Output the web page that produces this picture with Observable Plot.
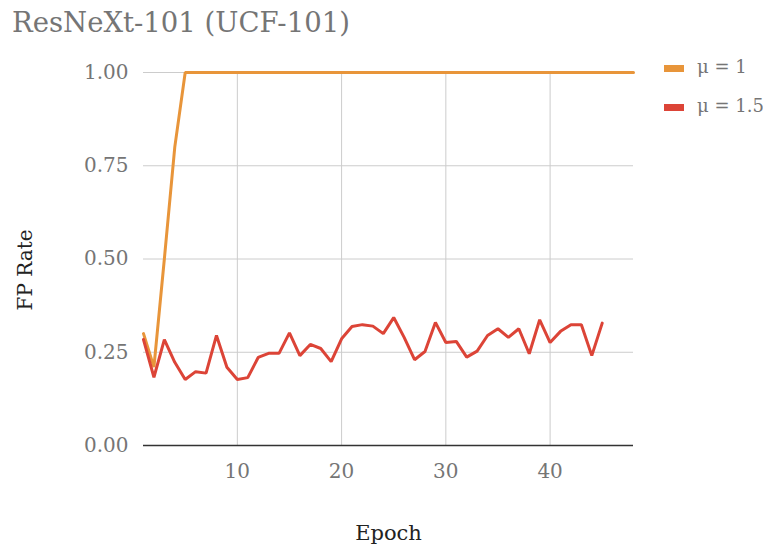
<!DOCTYPE html>
<html>
<head>
<meta charset="utf-8">
<script src="https://cdn.jsdelivr.net/npm/d3@7"></script>
<script src="https://cdn.jsdelivr.net/npm/@observablehq/plot@0.6"></script>
<style>
  body { margin: 0; background: #fff; }
  #wrap { position: relative; width: 763px; height: 548px; font-family: Georgia, "DejaVu Serif", serif; }
  #title { position: absolute; left: 12px; top: 6px; font-size: 27.5px; color: #757575; white-space: nowrap; }
  .leg { position: absolute; left: 664px; font-size: 18px; color: #757575; white-space: nowrap; }
  .sw { display: inline-block; width: 20px; height: 7px; vertical-align: middle; margin-right: 13px; }
  svg { position: absolute; left: 0; top: 0; }
</style>
</head>
<body>
<div id="wrap">
  <div id="title">ResNeXt-101 (UCF-101)</div>
</div>
<script>
const title = "ResNeXt-101 (UCF-101)";
const xLabel = "Epoch";
const yLabel = "FP Rate";
const seriesNames = ["μ = 1", "μ = 1.5"];
const seriesColors = ["#e8953a", "#dc4437"];
const xTicks = [10, 20, 30, 40];
const yTicks = [0, 0.25, 0.5, 0.75, 1];

const mu1 = [0.30, 0.21, 0.50, 0.80, 1, 1, 1, 1, 1, 1,
             1, 1, 1, 1, 1, 1, 1, 1, 1, 1,
             1, 1, 1, 1, 1, 1, 1, 1, 1, 1,
             1, 1, 1, 1, 1, 1, 1, 1, 1, 1,
             1, 1, 1, 1, 1, 1, 1, 1];
const mu15 = [0.284, 0.183, 0.284, 0.223, 0.177, 0.198, 0.194, 0.295, 0.210, 0.177,
              0.182, 0.236, 0.247, 0.247, 0.302, 0.241, 0.271, 0.260, 0.225, 0.286,
              0.319, 0.324, 0.320, 0.300, 0.343, 0.290, 0.230, 0.252, 0.330, 0.276,
              0.279, 0.237, 0.253, 0.295, 0.313, 0.290, 0.313, 0.246, 0.337, 0.276,
              0.306, 0.324, 0.324, 0.241, 0.328];

const rows = [
  ...mu1.map((v, i) => ({epoch: i + 1, value: v, series: seriesNames[0]})),
  ...mu15.map((v, i) => ({epoch: i + 1, value: v, series: seriesNames[1]}))
];

const chart = Plot.plot({
  width: 763,
  height: 548,
  marginTop: 72,
  marginBottom: 103,
  marginLeft: 143,
  marginRight: 130,
  style: {fontFamily: 'Georgia, "DejaVu Serif", serif', fontSize: "20px", background: "transparent"},
  x: {domain: [1, 48]},
  y: {domain: [0, 1]},
  color: {domain: seriesNames, range: seriesColors},
  marks: [
    Plot.gridX(xTicks, {stroke: "#cccccc", strokeOpacity: 1, strokeWidth: 1}),
    Plot.gridY(yTicks.filter(d => d > 0), {stroke: "#cccccc", strokeOpacity: 1, strokeWidth: 1}),
    Plot.axisX(xTicks, {tickSize: 0, tickPadding: 18, label: null, fill: "#757575", fontSize: 20}),
    Plot.axisY(yTicks, {tickSize: 0, tickPadding: 15, label: null, fill: "#757575", fontSize: 20, tickFormat: d3.format(".2f")}),
    Plot.ruleY([0], {stroke: "#333333", strokeWidth: 1.5}),
    Plot.line(rows, {x: "epoch", y: "value", z: "series", stroke: "series", strokeWidth: 3, strokeLinejoin: "miter"}),
    Plot.text([xLabel], {frameAnchor: "bottom", dy: 88, lineAnchor: "middle", textAnchor: "middle", fill: "#222222", fontSize: 21}),
    Plot.text([yLabel], {frameAnchor: "left", dx: -118, dy: 11, rotate: -90, lineAnchor: "middle", textAnchor: "middle", fill: "#222222", fontSize: 20})
  ]
});

const wrap = document.getElementById("wrap");
wrap.appendChild(chart);
const legTops = [56, 95];
seriesNames.forEach((name, i) => {
  const d = document.createElement("div");
  d.className = "leg";
  d.style.top = legTops[i] + "px";
  d.innerHTML = `<span class="sw" style="background:${seriesColors[i]}"></span>${name}`;
  wrap.appendChild(d);
});
</script>
</body>
</html>
